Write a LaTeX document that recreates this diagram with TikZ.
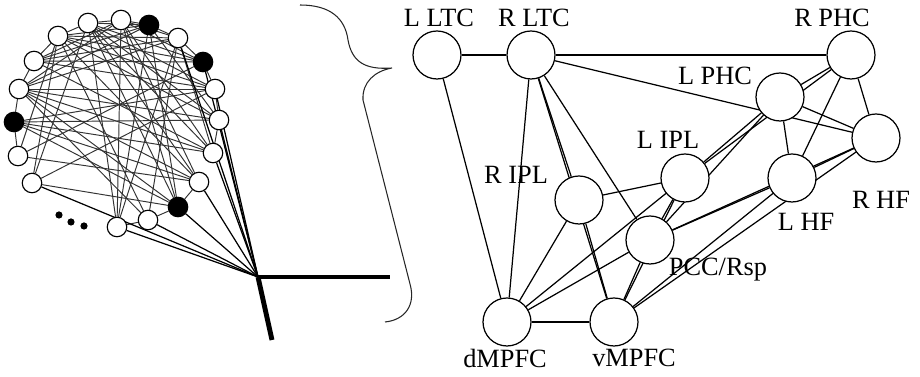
\documentclass[tikz,border=0pt]{standalone}
\usepackage{fontspec}
\setmainfont{Liberation Serif}
\usetikzlibrary{backgrounds}
\begin{document}
\begin{tikzpicture}
  [x=0.02cm,y=-0.02cm,
   roi/.style={circle,draw,fill=white,line width=0.7pt,minimum size=0.96cm,inner sep=0pt},
   lbl/.style={font=\fontsize{15}{18}\selectfont,inner sep=0pt},
   vox/.style={circle,draw,fill=white,line width=0.65pt,minimum size=0.39cm,inner sep=0pt},
   seed/.style={vox,fill=black},
   link/.style={line width=0.7pt},
   wire/.style={line width=0.55pt,black!80},
   fan/.style={line width=0.7pt},
   stem/.style={line width=2.8pt}]
  \useasboundingbox (0,0) rectangle (920,377);

  % whole-brain graph
  \foreach \n/\x/\y/\s in {1/121/20/vox, 2/88/23/vox, 3/58/36/vox, 4/34/61/vox,
      5/19/89/vox, 6/14/122/seed, 7/18/156/vox, 8/32/183/vox, 9/117/227/vox,
      10/148/220/vox, 11/178/207/seed, 12/199/182/vox, 13/213/153/vox,
      14/219/120/vox, 15/215/89/vox, 16/203/62/seed, 17/178/38/vox, 18/149/25/seed}
    \node[\s] (v\n) at (\x,\y) {};
  \foreach \d/\x/\y in {1/59/215, 2/71/222, 3/84/226}
    \fill (\x,\y) circle (3.6) coordinate (dot\d);

  \coordinate (hub) at (258,277);
  \coordinate (arm) at (390,277);
  \coordinate (leg) at (272,340);

  \begin{pgfonlayer}{background}
    \foreach \a/\b in {1/2, 2/3, 3/4, 4/5, 5/6, 6/7, 1/18, 17/18, 16/17, 15/16,
        14/15, 13/14, 9/10, 10/11, 11/12, 1/16, 1/17, 1/5, 1/4, 1/12, 1/13, 1/9,
        2/16, 2/15, 2/11, 2/13, 2/18, 3/18, 3/16, 3/14, 3/10, 3/8, 4/16, 4/17,
        4/15, 4/13, 5/15, 5/14, 5/13, 5/12, 5/11, 5/10, 5/17, 5/18, 6/14, 6/13,
        6/12, 6/11, 7/3, 7/12, 8/2, 8/11, 9/2, 9/17, 9/18, 10/17, 11/18, 11/1,
        12/3, 12/2, 13/17, 14/18, 14/2, 15/3, 7/16, 8/15, 4/18, 3/17, 6/15}
      \draw[wire] (v\a) -- (v\b);
    \foreach \b in {8,9,10,11,12,13,14,15,16,17}
      \draw[fan] (hub) -- (v\b);
  \end{pgfonlayer}
  \draw[stem] (hub) -- (arm);
  \draw[stem] (hub) -- (leg);

  % brace
  \draw[line width=0.6pt,black!85] (300,5) .. controls (330,5) and (345,18) .. (348,40)
    .. controls (352,62) and (365,70) .. (392,68)
    .. controls (375,71) and (362,82) .. (363,100) -- (410,284)
    .. controls (416,305) and (405,320) .. (385,322);

  % default-mode regions
  \node[roi] (LLTC) at (437,55) {};
  \node[roi] (RLTC) at (531,55) {};
  \node[roi] (RPHC) at (851,55) {};
  \node[roi] (LPHC) at (780,97) {};
  \node[roi] (RHF) at (876,138) {};
  \node[roi] (LIPL) at (685,178) {};
  \node[roi] (LHF) at (792,178) {};
  \node[roi] (RIPL) at (579,200) {};
  \node[roi] (PCC) at (650,240) {};
  \node[roi] (dMPFC) at (507,322) {};
  \node[roi] (vMPFC) at (614,322) {};

  \node[lbl] (tLLTC) at (439,18) {L LTC};
  \node[lbl] (tRLTC) at (534,18) {R LTC};
  \node[lbl] (tRPHC) at (832,18) {R PHC};
  \node[lbl] (tLPHC) at (715,76) {L PHC};
  \node[lbl] (tLIPL) at (668,140) {L IPL};
  \node[lbl] (tRIPL) at (516,175) {R IPL};
  \node[lbl] (tRHF) at (881,200) {R HF};
  \node[lbl] (tLHF) at (806,222) {L HF};
  \node[lbl] (tPCC) at (718,270) {PCC/Rsp};
  \node[lbl] (tdMPFC) at (505,358) {dMPFC};
  \node[lbl] (tvMPFC) at (634,358) {vMPFC};

  \begin{pgfonlayer}{background}
    \foreach \a/\b in {LLTC/RLTC, RLTC/RPHC, RLTC/RHF, LLTC/dMPFC, RLTC/dMPFC,
        RLTC/RIPL, RLTC/vMPFC, RLTC/PCC, RIPL/LIPL, RIPL/dMPFC, RIPL/vMPFC,
        LIPL/LPHC, LIPL/RPHC, PCC/LPHC, LPHC/RPHC, LPHC/RHF, LPHC/LHF,
        RPHC/LHF, RPHC/RHF, LHF/RHF, PCC/RHF, LHF/PCC, LHF/vMPFC, RHF/vMPFC,
        PCC/dMPFC, PCC/vMPFC, LIPL/dMPFC, LIPL/PCC, LIPL/vMPFC}
      \draw[link] (\a) -- (\b);
    \draw[link,line width=1.1pt] (dMPFC) -- (vMPFC);
  \end{pgfonlayer}
\end{tikzpicture}
\end{document}
